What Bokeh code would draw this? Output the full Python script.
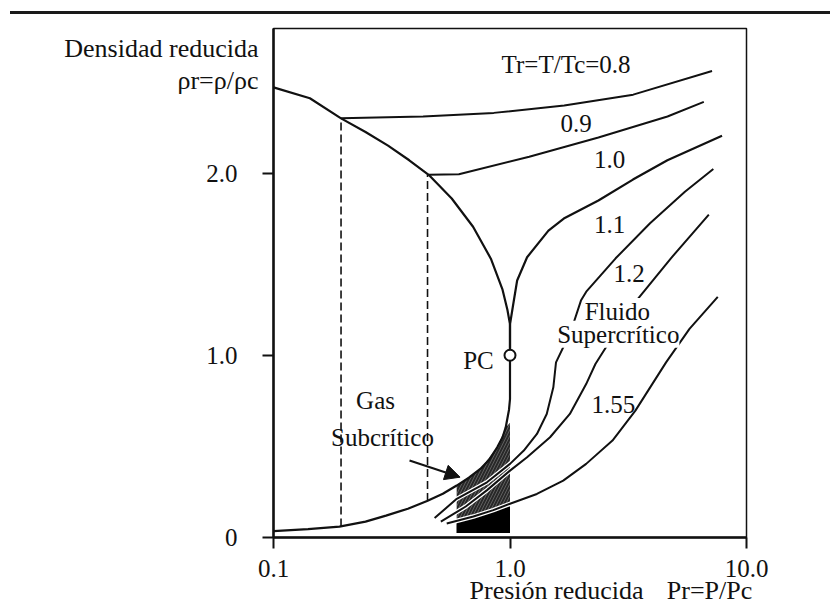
from bokeh.plotting import figure
from bokeh.models import (Range1d, FixedTicker, PrintfTickFormatter, Label,
                          Arrow, NormalHead, Div, LinearAxis, LogAxis)
from bokeh.layouts import column
from bokeh.embed import file_html
from bokeh.resources import INLINE

# ---- data: reduced pressure (Pr) vs reduced density (rho_r) ----
# saturation dome, liquid branch (from low pressure up to the critical point)
liq_pr  = [0.1, 0.1425, 0.193, 0.245, 0.305, 0.375, 0.453, 0.567, 0.698, 0.83,
           0.93, 0.975, 1.0, 1.0]
liq_rho = [2.47, 2.41, 2.30, 2.225, 2.15, 2.07, 1.99, 1.86, 1.705, 1.53,
           1.36, 1.25, 1.17, 1.0]
# saturation dome, vapour branch
vap_pr  = [0.1, 0.14, 0.19, 0.245, 0.299, 0.37, 0.446, 0.52, 0.595, 0.67, 0.749,
           0.82, 0.883, 0.93, 0.959, 0.99, 1.0, 1.0]
vap_rho = [0.035, 0.046, 0.06, 0.087, 0.12, 0.158, 0.20, 0.24, 0.285, 0.328, 0.376,
           0.43, 0.495, 0.55, 0.604, 0.70, 0.76, 1.0]

# compressed-liquid isotherms
t08_pr  = [0.193, 0.429, 0.854, 1.695, 3.318, 7.15]
t08_rho = [2.30, 2.31, 2.33, 2.37, 2.43, 2.56]
t09_pr  = [0.453, 0.608, 1.206, 2.365, 4.633, 6.60]
t09_rho = [1.99, 1.993, 2.089, 2.195, 2.31, 2.39]

# critical isotherm above the critical point
t10_pr  = [1.0, 1.0, 1.032, 1.072, 1.181, 1.454, 1.688, 2.365, 3.31, 4.63, 7.88]
t10_rho = [1.0, 1.17, 1.28, 1.41, 1.538, 1.684, 1.75, 1.849, 1.964, 2.07, 2.204]

# supercritical isotherms
t11_pr  = [0.48, 0.5955, 0.799, 1.0, 1.144, 1.30, 1.43, 1.525, 1.565, 1.806, 1.995,
           2.101, 2.797, 3.91, 5.49, 7.24]
t11_rho = [0.107, 0.212, 0.303, 0.404, 0.477, 0.568, 0.678, 0.824, 0.961, 1.129, 1.30,
           1.349, 1.532, 1.724, 1.897, 2.022]
t12_pr  = [0.51, 0.65, 0.8, 1.0, 1.181, 1.477, 1.791, 2.099, 2.297, 2.818, 3.48, 4.79, 6.93]
t12_rho = [0.087, 0.17, 0.26, 0.367, 0.44, 0.55, 0.678, 0.842, 0.952, 1.134, 1.311, 1.532, 1.772]
t155_pr  = [0.54, 0.7, 0.85, 1.0, 1.299, 1.679, 2.099, 2.712, 3.39, 4.57, 5.74, 7.56]
t155_rho = [0.077, 0.115, 0.15, 0.185, 0.239, 0.312, 0.404, 0.532, 0.696, 0.961, 1.145, 1.32]

# tie lines (saturation pressure, vapour and liquid densities) for Tr = 0.8 and 0.9
tie_pr      = [0.193, 0.448]
tie_rho_vap = [0.06, 0.20]
tie_rho_liq = [2.30, 1.99]

# critical point
pc_pr, pc_rho = [1.0], [1.0]

# subcritical gas region (shaded)
gas_pr  = [0.595, 0.595, 0.749, 0.883, 0.959, 1.0, 1.0]
gas_rho = [0.025, 0.285, 0.376, 0.495, 0.604, 0.63, 0.025]
gas_low_pr  = [0.595, 0.595, 0.8, 1.0, 1.0]
gas_low_rho = [0.025, 0.10, 0.14, 0.17, 0.025]

x_ticks = [0.1, 1.0, 10.0]
y_ticks = [0, 1, 2]

# axis titles, placed at these data positions
y_title_pos  = [2.683, 2.508]
y_title_text = ["Densidad reducida", "ρr=ρ/ρc"]
x_title_pos  = [1.573, 6.977]
x_title_text = ["Presión reducida", "Pr=P/Pc"]

FONT = "Liberation Serif"
INK = "#111111"

p = figure(width=830, height=600, x_axis_type="log",
           x_range=Range1d(0.1, 10.0), y_range=Range1d(0, 2.793),
           output_backend="svg", toolbar_location=None,
           min_border_left=273, min_border_right=84,
           min_border_top=12, min_border_bottom=79)
p.grid.visible = False
p.outline_line_color = INK
p.outline_line_width = 1.5
p.background_fill_color = "white"
p.border_fill_color = "white"

for ax in (p.xaxis[0], p.yaxis[0]):
    ax.axis_line_width = 2.5
    ax.axis_line_color = INK
    ax.major_tick_line_width = 2
    ax.major_tick_line_color = INK
    ax.major_tick_out = 11
    ax.major_tick_in = 0
    ax.minor_tick_line_color = None
    ax.major_label_text_font = FONT
    ax.major_label_text_font_size = "25px"
    ax.major_label_text_color = INK

p.xaxis.ticker = FixedTicker(ticks=x_ticks)
p.xaxis.formatter = PrintfTickFormatter(format="%.1f")
p.xaxis.major_label_standoff = 11
p.yaxis.ticker = FixedTicker(ticks=y_ticks)
p.yaxis.formatter = PrintfTickFormatter(format="%.1f")
p.yaxis.major_label_overrides = {0: "0"}
p.yaxis.major_label_standoff = 25


def title_axis(cls, ticks, texts, standoff):
    return cls(ticker=FixedTicker(ticks=ticks),
               major_label_overrides=dict(zip(ticks, texts)),
               axis_line_color=None, major_tick_line_color=None,
               minor_tick_line_color=None, major_tick_out=0, major_tick_in=0,
               major_label_standoff=standoff, major_label_text_font=FONT,
               major_label_text_font_size="26px", major_label_text_color=INK)


p.add_layout(title_axis(LinearAxis, y_title_pos, y_title_text, -55), "left")
p.add_layout(title_axis(LogAxis, x_title_pos, x_title_text, -4), "below")

# shaded subcritical-gas region
p.patch(gas_pr, gas_rho, fill_color="#111111", fill_alpha=0.9, line_color=None,
        hatch_pattern="/", hatch_color="white", hatch_alpha=0.25,
        hatch_scale=6, hatch_weight=1)
p.patch(gas_low_pr, gas_low_rho, fill_color="black", line_color=None)

# tie lines
p.segment(tie_pr, tie_rho_vap, tie_pr, tie_rho_liq, line_color=INK,
          line_width=1.6, line_dash="8 4")

# saturation dome
p.line(liq_pr, liq_rho, line_color=INK, line_width=2.2)
p.line(vap_pr, vap_rho, line_color=INK, line_width=2.2)

# isotherms
p.line(t08_pr, t08_rho, line_color=INK, line_width=2)
p.line(t09_pr, t09_rho, line_color=INK, line_width=2)
p.line(t10_pr, t10_rho, line_color=INK, line_width=2.2)
for xs, ys in ((t11_pr, t11_rho), (t12_pr, t12_rho), (t155_pr, t155_rho)):
    p.line(xs, ys, line_color="white", line_width=4.5)
    p.line(xs, ys, line_color=INK, line_width=2)

# critical point marker
p.scatter(pc_pr, pc_rho, marker="circle", size=11, fill_color="white",
          line_color=INK, line_width=2)

# arrow pointing at the subcritical gas region
p.add_layout(Arrow(end=NormalHead(size=15, fill_color=INK, line_color=INK),
                   x_start=0.376, y_start=0.4225, x_end=0.615, y_end=0.331,
                   line_color=INK, line_width=2))


def label(x, y, text, align="center", size="25px", bg=None):
    p.add_layout(Label(x=x, y=y, text=text, text_font=FONT, text_font_size=size,
                       text_color=INK, text_align=align, text_baseline="middle",
                       background_fill_color=bg))


label(1.727, 2.595, "Tr=T/Tc=0.8")
label(1.902, 2.27, "0.9")
label(2.635, 2.075, "1.0")
label(2.635, 1.715, "1.1")
label(3.19, 1.45, "1.2", bg="white")
label(2.87, 1.115, "Supercrítico", bg="white")
label(2.842, 1.24, "Fluido", bg="white")
label(2.737, 0.728, "1.55")
label(0.854, 0.971, "PC", align="right")
label(0.270, 0.752, "Gas")
label(0.289, 0.549, "Subcrítico")

rule = Div(text='<div style="display:block;width:820px;height:3px;margin:11px 0 0 10px;'
                'background:#1a1a1a;"></div>',
           width=830, height=16, margin=0)

layout = column(rule, p, spacing=0)
open("out.html", "w").write(file_html(layout, INLINE))
